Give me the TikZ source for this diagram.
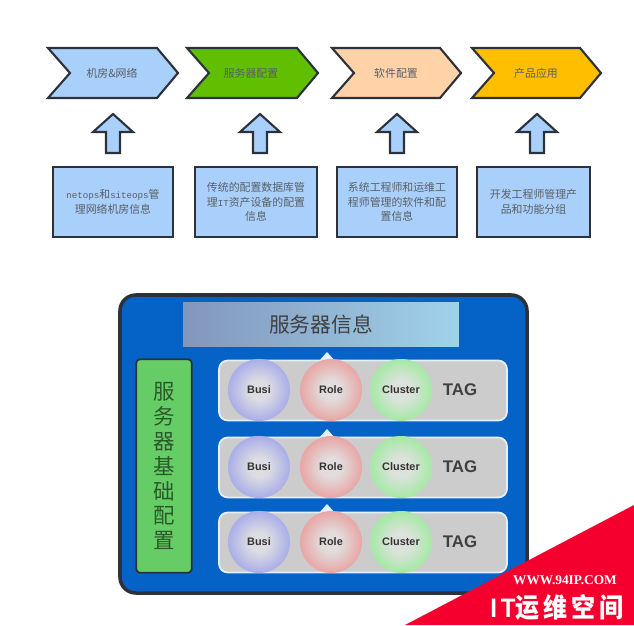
\documentclass[tikz,border=0pt]{standalone}
\usepackage{fontspec}
\usepackage{xcolor}
\setmainfont{Noto Sans CJK SC}
\newfontfamily\latinfont{Liberation Sans}
\newfontfamily\monofont{Liberation Mono}
\newfontfamily\markfont{Liberation Serif}
\definecolor{lineDark}{HTML}{2B323C}
\definecolor{skyFill}{HTML}{A9D0FA}
\definecolor{grassFill}{HTML}{5FBF00}
\definecolor{peachFill}{HTML}{FFD2A8}
\definecolor{amberFill}{HTML}{FFBE00}
\definecolor{panelBlue}{HTML}{0563C8}
\definecolor{barGreen}{HTML}{66CC66}
\definecolor{barText}{HTML}{2A5A2A}
\definecolor{rowGray}{HTML}{CCCCCC}
\definecolor{rowEdge}{HTML}{E2F0FC}
\definecolor{textGray}{HTML}{5A5F66}
\definecolor{stampRed}{HTML}{F5002E}
\definecolor{titleLeft}{HTML}{8296BB}
\definecolor{titleRight}{HTML}{A0D2EB}
\definecolor{busiCore}{HTML}{DCDCE2}
\definecolor{busiEdge}{HTML}{ACB0E8}
\definecolor{roleCore}{HTML}{E2DCDC}
\definecolor{roleEdge}{HTML}{E8A8A8}
\definecolor{clusterCore}{HTML}{DCE2DC}
\definecolor{clusterEdge}{HTML}{A8E8A8}
\pgfdeclareradialshading{ballbusi}{\pgfpoint{0bp}{0bp}}{color(0bp)=(busiCore); color(8bp)=(busiCore); color(24bp)=(busiEdge); color(50bp)=(busiEdge)}
\pgfdeclareradialshading{ballrole}{\pgfpoint{0bp}{0bp}}{color(0bp)=(roleCore); color(8bp)=(roleCore); color(24bp)=(roleEdge); color(50bp)=(roleEdge)}
\pgfdeclareradialshading{ballcluster}{\pgfpoint{0bp}{0bp}}{color(0bp)=(clusterCore); color(8bp)=(clusterCore); color(24bp)=(clusterEdge); color(50bp)=(clusterEdge)}
\tikzset{
    outline/.style={draw=lineDark, line width=1.2pt, line join=miter},
    chevtext/.style={text=textGray, font=\fontsize{6.2}{8.4}\selectfont},
    infobox/.style={outline, fill=skyFill, text=textGray, align=center, inner sep=0pt,
        minimum height=39.8pt, font=\fontsize{6.2}{8.4}\selectfont},
    ball/.style={circle, minimum size=35.3pt, inner sep=0pt, text=black!80,
        font=\latinfont\bfseries\fontsize{6.2}{7}\selectfont},
    tagrow/.style={draw=rowEdge, fill=rowGray, line width=1pt, rounded corners=5pt},
    tagtext/.style={text=black!75, font=\latinfont\bfseries\fontsize{9.6}{10}\selectfont}
}
\newcommand{\latinpart}[1]{{\monofont\fontsize{5.2}{8.4}\selectfont #1}}

\begin{document}
\begin{tikzpicture}[x=0.02cm, y=-0.02cm]
    \useasboundingbox (0,0) rectangle (634,625);

    % Top chevrons
    \foreach \x/\w/\col/\name/\txt in {48/109/skyFill/net/机房\&网络, 187/110/grassFill/srv/服务器配置,
        332/108/peachFill/soft/软件配置, 472/108/amberFill/prod/产品应用} {
        \draw[outline, fill=\col] (\x,48) -- (\x+\w,48) -- (\x+\w+21,73) -- (\x+\w,98)
            -- (\x,98) -- (\x+22,73) -- cycle;
        \node[chevtext] (chev\name) at (\x+64,73) {\txt};
    }

    % Block arrows
    \foreach \x in {113,260,397,537} {
        \draw[outline, fill=skyFill] (\x,114) -- (\x+20,132) -- (\x+7,132) -- (\x+7,153)
            -- (\x-7,153) -- (\x-7,132) -- (\x-20,132) -- cycle;
    }

    % Text boxes
    \node[infobox, minimum width=68.3pt] (boxnet) at (113,202)
        {\latinpart{netops}和\latinpart{siteops}管\\理网络机房信息};
    \node[infobox, minimum width=69.4pt] (boxsrv) at (256,202)
        {传统的配置数据库管\\理\latinpart{IT}资产设备的配置\\信息};
    \node[infobox, minimum width=68.3pt] (boxsoft) at (397,202)
        {系统工程师和运维工\\程师管理的软件和配\\置信息};
    \node[infobox, minimum width=64.3pt] (boxprod) at (533.5,202)
        {开发工程师管理产\\品和功能分组};

    % Panel
    \draw[draw=lineDark, fill=panelBlue, line width=2pt, rounded corners=9pt] (120,295) rectangle (527,593);
    \node[left color=titleLeft, right color=titleRight,
        minimum width=157pt, minimum height=24.5pt, inner sep=0pt, text=black!75,
        font=\fontsize{11.8}{13}\selectfont] (title) at (321,324.5) {服务器信息};
    \node[draw=lineDark, fill=barGreen, line width=1pt, rounded corners=2pt, align=center,
        minimum width=31.5pt, minimum height=121.5pt, inner sep=0pt, text=barText,
        font=\fontsize{12.2}{14.2}\selectfont] (bar) at (164,466)
        {服\\务\\器\\基\\础\\配\\置};

    % Tag rows
    \foreach \y/\id in {390/a, 467/b, 542/c} {
        \fill[rowEdge] (327,\y-38) -- (335,\y-29) -- (319,\y-29) -- cycle;
        \draw[tagrow] (219,\y-29.5) rectangle (507,\y+30.5);
        \node[ball, shading=ballbusi] (busi\id) at (259,\y) {Busi};
        \node[ball, shading=ballrole] (role\id) at (331,\y) {Role};
        \node[ball, shading=ballcluster] (cluster\id) at (401,\y) {Cluster};
        \node[tagtext] (tag\id) at (460,\y) {TAG};
    }

    % Corner stamp
    \fill[stampRed] (405,625) -- (634,505) -- (634,625) -- cycle;
    \node[text=white, font=\markfont\bfseries\fontsize{7.6}{8}\selectfont] (site) at (565,580) {WWW.94IP.COM};
    \node[text=white, xscale=0.9, transform shape, font=\bfseries\fontsize{15.2}{16}\selectfont] (stamp) at (557,607)
        {{\latinfont I\,T}运\,维\,空\,间};
\end{tikzpicture}
\end{document}
